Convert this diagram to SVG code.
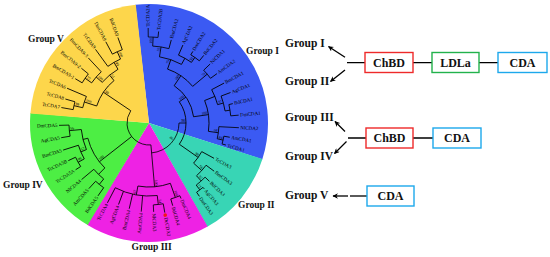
<svg xmlns="http://www.w3.org/2000/svg" width="550" height="257" viewBox="0 0 550 257">
<style>
.wedge{fill:none;stroke-width:119}
.br line,.br circle{stroke:#000;stroke-width:0.8;fill:none}
.lf{font-family:"Liberation Serif",serif;font-size:5px;fill:#000;dominant-baseline:central}
.fl{text-anchor:end}
.bs{font-family:"Liberation Serif",serif;font-size:3.8px;fill:#000}
.bse{text-anchor:end}
.gl{font-family:"Liberation Serif",serif;font-weight:bold;font-size:9.5px;fill:#111}
.rg{font-family:"Liberation Serif",serif;font-weight:bold;font-size:11.5px;fill:#111}
.bx{fill:#fff;stroke-width:1.4}
.bt{font-family:"Liberation Serif",serif;font-weight:bold;font-size:12px;fill:#111;text-anchor:middle;dominant-baseline:central}
.ln{stroke:#000;stroke-width:1.3;fill:none}
.ar{stroke:#000;stroke-width:1.3;fill:none;marker-end:url(#ah)}
</style>
<defs>
<marker id="ah" viewBox="0 0 10 10" refX="9" refY="5" markerWidth="5.5" markerHeight="5.5" orient="auto" markerUnits="userSpaceOnUse">
<path d="M0,0 L10,5 L0,10 L3,5 Z" fill="#000"/>
</marker>
</defs>
<rect width="550" height="257" fill="#fff"/>
<g id="tree" transform="translate(149,123)">
<g id="sectors">
<circle class="wedge" r="59.5" pathLength="360" stroke="#3B5AF3" stroke-dasharray="114.4 400" transform="rotate(263.4)"/>
<circle class="wedge" r="59.5" pathLength="360" stroke="#38D5B5" stroke-dasharray="43.1 400" transform="rotate(17.6)"/>
<circle class="wedge" r="59.5" pathLength="360" stroke="#EE22E4" stroke-dasharray="60.8 400" transform="rotate(60.5)"/>
<circle class="wedge" r="59.5" pathLength="360" stroke="#4DEE44" stroke-dasharray="63.8 400" transform="rotate(121)"/>
<circle class="wedge" r="59.5" pathLength="360" stroke="#FDD64B" stroke-dasharray="79 400" transform="rotate(184.6)"/>
</g>
<g id="connectors" class="br">
<circle r="77" pathLength="360" stroke-dasharray="6 400" transform="rotate(190)"/>
<line x1="77" x2="89" transform="rotate(190)"/><line x1="77" x2="87" transform="rotate(196)"/>
<circle r="68" pathLength="360" stroke-dasharray="10 400" transform="rotate(193)"/>
<line x1="68" x2="89" transform="rotate(203)"/><line x1="68" x2="77" transform="rotate(193)"/>
<circle r="78" pathLength="360" stroke-dasharray="8 400" transform="rotate(211)"/>
<line x1="78" x2="86" transform="rotate(211)"/><line x1="78" x2="87" transform="rotate(219)"/>
<circle r="70" pathLength="360" stroke-dasharray="12 400" transform="rotate(215)"/>
<line x1="70" x2="78" transform="rotate(215)"/><line x1="70" x2="89" transform="rotate(227)"/>
<circle r="78" pathLength="360" stroke-dasharray="8 400" transform="rotate(242)"/>
<line x1="78" x2="92" transform="rotate(242)"/><line x1="78" x2="91" transform="rotate(250)"/>
<circle r="70" pathLength="360" stroke-dasharray="12 400" transform="rotate(234)"/>
<line x1="70" x2="91" transform="rotate(234)"/><line x1="70" x2="78" transform="rotate(246)"/>
<circle r="62" pathLength="360" stroke-dasharray="19 400" transform="rotate(221)"/>
<line x1="62" x2="70" transform="rotate(221)"/><line x1="62" x2="70" transform="rotate(240)"/>
<circle r="55" pathLength="360" stroke-dasharray="32.5 400" transform="rotate(198)"/>
<line x1="55" x2="68" transform="rotate(198)"/><line x1="55" x2="62" transform="rotate(230.5)"/>
<line x1="22" x2="55" transform="rotate(214)"/>
<circle r="80" pathLength="360" stroke-dasharray="8 400" transform="rotate(170.5)"/>
<line x1="80" x2="89" transform="rotate(170.5)"/><line x1="80" x2="90" transform="rotate(178.5)"/>
<circle r="81" pathLength="360" stroke-dasharray="7.5 400" transform="rotate(147.5)"/>
<line x1="81" x2="87" transform="rotate(147.5)"/><line x1="81" x2="89" transform="rotate(155)"/>
<circle r="74" pathLength="360" stroke-dasharray="11.5 400" transform="rotate(151)"/>
<line x1="74" x2="81" transform="rotate(151)"/><line x1="74" x2="90" transform="rotate(162.5)"/>
<circle r="68" pathLength="360" stroke-dasharray="17.5 400" transform="rotate(157)"/>
<line x1="68" x2="74" transform="rotate(157)"/><line x1="68" x2="80" transform="rotate(174.5)"/>
<circle r="79" pathLength="360" stroke-dasharray="7.5 400" transform="rotate(125)"/>
<line x1="79" x2="89" transform="rotate(125)"/><line x1="79" x2="89" transform="rotate(132.5)"/>
<circle r="72" pathLength="360" stroke-dasharray="11 400" transform="rotate(129)"/>
<line x1="72" x2="79" transform="rotate(129)"/><line x1="72" x2="88" transform="rotate(140)"/>
<circle r="63" pathLength="360" stroke-dasharray="31.5 400" transform="rotate(134.5)"/>
<line x1="63" x2="72" transform="rotate(134.5)"/><line x1="63" x2="68" transform="rotate(166)"/>
<line x1="22" x2="63" transform="rotate(142)"/>
<circle r="79" pathLength="360" stroke-dasharray="7 400" transform="rotate(67)"/>
<line x1="79" x2="82" transform="rotate(67)"/><line x1="79" x2="86" transform="rotate(74)"/>
<circle r="82" pathLength="360" stroke-dasharray="7 400" transform="rotate(80)"/>
<line x1="82" x2="91" transform="rotate(80)"/><line x1="82" x2="89" transform="rotate(87)"/>
<circle r="73" pathLength="360" stroke-dasharray="34 400" transform="rotate(83.5)"/>
<line x1="73" x2="82" transform="rotate(83.5)"/><line x1="73" x2="89" transform="rotate(95)"/>
<line x1="73" x2="88" transform="rotate(103)"/><line x1="73" x2="87" transform="rotate(110.5)"/>
<line x1="73" x2="90" transform="rotate(117.5)"/>
<circle r="64" pathLength="360" stroke-dasharray="29.5 400" transform="rotate(70.5)"/>
<line x1="64" x2="79" transform="rotate(70.5)"/><line x1="64" x2="73" transform="rotate(100)"/>
<line x1="22" x2="64" transform="rotate(85)"/>
<circle r="84" pathLength="360" stroke-dasharray="5.5 400" transform="rotate(50)"/>
<line x1="84" x2="86" transform="rotate(50)"/><line x1="84" x2="89" transform="rotate(55.5)"/>
<circle r="78" pathLength="360" stroke-dasharray="8.75 400" transform="rotate(44)"/>
<line x1="78" x2="84" transform="rotate(44)"/><line x1="78" x2="84" transform="rotate(52.75)"/>
<circle r="71" pathLength="360" stroke-dasharray="11.5 400" transform="rotate(36.5)"/>
<line x1="71" x2="81" transform="rotate(36.5)"/><line x1="71" x2="78" transform="rotate(48)"/>
<circle r="60" pathLength="360" stroke-dasharray="13.5 400" transform="rotate(28.5)"/>
<line x1="60" x2="74" transform="rotate(28.5)"/><line x1="60" x2="71" transform="rotate(42)"/>
<line x1="37" x2="60" transform="rotate(35)"/>
<circle r="86" pathLength="360" stroke-dasharray="6.5 400" transform="rotate(269.5)"/>
<line x1="86" x2="95" transform="rotate(269.5)"/><line x1="86" x2="92" transform="rotate(276)"/>
<circle r="77" pathLength="360" stroke-dasharray="12.25 400" transform="rotate(272.75)"/>
<line x1="77" x2="86" transform="rotate(272.75)"/><line x1="77" x2="86" transform="rotate(285)"/>
<circle r="80" pathLength="360" stroke-dasharray="7.5 400" transform="rotate(301.5)"/>
<line x1="80" x2="84" transform="rotate(301.5)"/><line x1="80" x2="87" transform="rotate(309)"/>
<circle r="74" pathLength="360" stroke-dasharray="11.5 400" transform="rotate(293.5)"/>
<line x1="74" x2="85" transform="rotate(293.5)"/><line x1="74" x2="80" transform="rotate(305)"/>
<circle r="67" pathLength="360" stroke-dasharray="20 400" transform="rotate(279)"/>
<line x1="67" x2="77" transform="rotate(279)"/><line x1="67" x2="74" transform="rotate(299)"/>
<circle r="76" pathLength="360" stroke-dasharray="8 400" transform="rotate(316)"/>
<line x1="76" x2="85" transform="rotate(316)"/><line x1="76" x2="84" transform="rotate(324)"/>
<circle r="57" pathLength="360" stroke-dasharray="31 400" transform="rotate(289)"/>
<line x1="57" x2="67" transform="rotate(289)"/><line x1="57" x2="76" transform="rotate(320)"/>
<circle r="82" pathLength="360" stroke-dasharray="8 400" transform="rotate(347)"/>
<line x1="82" x2="86" transform="rotate(347)"/><line x1="82" x2="90" transform="rotate(355)"/>
<circle r="77" pathLength="360" stroke-dasharray="11.5 400" transform="rotate(339.5)"/>
<line x1="77" x2="87" transform="rotate(339.5)"/><line x1="77" x2="82" transform="rotate(351)"/>
<circle r="71" pathLength="360" stroke-dasharray="13 400" transform="rotate(332)"/>
<line x1="71" x2="85" transform="rotate(332)"/><line x1="71" x2="77" transform="rotate(345)"/>
<circle r="76" pathLength="360" stroke-dasharray="6 400" transform="rotate(370)"/>
<line x1="76" x2="82" transform="rotate(370)"/><line x1="76" x2="80" transform="rotate(376)"/>
<circle r="70" pathLength="360" stroke-dasharray="10 400" transform="rotate(363)"/>
<line x1="70" x2="90" transform="rotate(363)"/><line x1="70" x2="76" transform="rotate(373)"/>
<circle r="60" pathLength="360" stroke-dasharray="30 400" transform="rotate(338)"/>
<line x1="60" x2="71" transform="rotate(338)"/><line x1="60" x2="70" transform="rotate(368)"/>
<circle r="45" pathLength="360" stroke-dasharray="48 400" transform="rotate(304)"/>
<line x1="45" x2="57" transform="rotate(304)"/><line x1="45" x2="60" transform="rotate(352)"/>
<line x1="37" x2="45" transform="rotate(325)"/>
<circle r="37" pathLength="360" stroke-dasharray="70 400" transform="rotate(325)"/>
<line x1="30" x2="37" transform="rotate(0)"/>
<circle r="30" pathLength="360" stroke-dasharray="85 400" transform="rotate(0)"/>
<circle r="22" pathLength="360" stroke-dasharray="129 400" transform="rotate(85)"/>
</g>
<g id="bootstrap">
<text class="bs" transform="rotate(193) translate(76,0) rotate(180) translate(0,-0.8)">99</text>
<text class="bs" transform="rotate(198) translate(67,0) rotate(180) translate(0,-0.8)">100</text>
<text class="bs" transform="rotate(215) translate(77,0) rotate(180) translate(0,-0.8)">77</text>
<text class="bs" transform="rotate(221) translate(69,0) rotate(180) translate(0,-0.8)">100</text>
<text class="bs" transform="rotate(246) translate(77,0) rotate(180) translate(0,-0.8)">100</text>
<text class="bs" transform="rotate(240) translate(69,0) rotate(180) translate(0,-0.8)">99</text>
<text class="bs" transform="rotate(230.5) translate(61,0) rotate(180) translate(0,-0.8)">51</text>
<text class="bs" transform="rotate(214) translate(54,0) rotate(180) translate(0,-0.8)">99</text>
<text class="bs" transform="rotate(174.5) translate(79,0) rotate(180) translate(0,-0.8)">56</text>
<text class="bs" transform="rotate(151) translate(80,0) rotate(180) translate(0,-0.8)">99</text>
<text class="bs" transform="rotate(157) translate(73,0) rotate(180) translate(0,-0.8)">57</text>
<text class="bs" transform="rotate(142) translate(62,0) rotate(180) translate(0,-0.8)">100</text>
<text class="bs" transform="rotate(100) translate(72,0) rotate(180) translate(0,-0.8)">67</text>
<text class="bs bse" transform="rotate(70.5) translate(78,-0.8)">100</text>
<text class="bs bse" transform="rotate(83.5) translate(81,-0.8)">54</text>
<text class="bs bse" transform="rotate(85) translate(63,-0.8)">100</text>
<text class="bs bse" transform="rotate(52.75) translate(83,-0.8)">71</text>
<text class="bs bse" transform="rotate(48) translate(77,-0.8)">97</text>
<text class="bs bse" transform="rotate(42) translate(70,-0.8)">56</text>
<text class="bs bse" transform="rotate(35) translate(59,-0.8)">98</text>
<text class="bs bse" transform="rotate(272.75) translate(85,-0.8)">100</text>
<text class="bs bse" transform="rotate(279) translate(76,-0.8)">55</text>
<text class="bs bse" transform="rotate(305) translate(79,-0.8)">91</text>
<text class="bs bse" transform="rotate(289) translate(66,-0.8)">75</text>
<text class="bs bse" transform="rotate(320) translate(75,-0.8)">79</text>
<text class="bs bse" transform="rotate(304) translate(56,-0.8)">100</text>
<text class="bs bse" transform="rotate(345) translate(76,-0.8)">97</text>
<text class="bs bse" transform="rotate(373) translate(75,-0.8)">64</text>
<text class="bs bse" transform="rotate(368) translate(69,-0.8)">68</text>
<text class="bs bse" transform="rotate(352) translate(59,-0.8)">100</text>
<text class="bs bse" transform="rotate(325) translate(44,-0.8)">100</text>
<text class="bs bse" transform="rotate(0) translate(36,-0.8)">98</text>
<text class="bs bse" transform="rotate(38) translate(29,-0.8)">86</text>
</g>
<g id="leaves">
<g id="n-TcCDA7"><text class="lf fl" transform="rotate(190) translate(90.5,0) rotate(180)">TcCDA7</text></g>
<g id="n-TcCDA8"><text class="lf fl" transform="rotate(196) translate(88.5,0) rotate(180)">TcCDA8</text></g>
<g id="n-TcCDA6"><text class="lf fl" transform="rotate(203) translate(90.5,0) rotate(180)">TcCDA6</text></g>
<g id="n-BmCDA9-1"><text class="lf fl" transform="rotate(211) translate(87.5,0) rotate(180)">BmCDA9-1</text></g>
<g id="n-BmCDA9-2"><text class="lf fl" transform="rotate(219) translate(88.5,0) rotate(180)">BmCDA9-2</text></g>
<g id="n-BmCDA9-3"><text class="lf fl" transform="rotate(227) translate(90.5,0) rotate(180)">BmCDA9-3</text></g>
<g id="n-TcCDA9"><text class="lf fl" transform="rotate(234) translate(92.5,0) rotate(180)">TcCDA9</text></g>
<g id="n-DmCDA9"><text class="lf fl" transform="rotate(242) translate(93.5,0) rotate(180)">DmCDA9</text></g>
<g id="n-BdCDA9"><text class="lf fl" transform="rotate(250) translate(92.5,0) rotate(180)">BdCDA9</text></g>
<g id="n-TcCDA2A"><text class="lf" transform="rotate(269.5) translate(96.5,0)">TcCDA2A</text></g>
<g id="n-TcCDA2B"><text class="lf" transform="rotate(276) translate(93.5,0)">TcCDA2B</text></g>
<g id="n-BmCDA2"><text class="lf" transform="rotate(285) translate(87.5,0)">BmCDA2</text></g>
<g id="n-AgCDA2"><text class="lf" transform="rotate(293.5) translate(86.5,0)">AgCDA2</text></g>
<g id="n-DmCDA2"><text class="lf" transform="rotate(301.5) translate(85.5,0)">DmCDA2</text></g>
<g id="n-BdCDA2"><text class="lf" transform="rotate(309) translate(88.5,0)">BdCDA2</text></g>
<g id="n-NlCDA1"><text class="lf" transform="rotate(316) translate(86.5,0)">NlCDA1</text></g>
<g id="n-AmCDA2"><text class="lf" transform="rotate(324) translate(85.5,0)">AmCDA2</text></g>
<g id="n-BmCDA1"><text class="lf" transform="rotate(332) translate(86.5,0)">BmCDA1</text></g>
<g id="n-AgCDA1"><text class="lf" transform="rotate(339.5) translate(88.5,0)">AgCDA1</text></g>
<g id="n-BdCDA1"><text class="lf" transform="rotate(347) translate(87.5,0)">BdCDA1</text></g>
<g id="n-DmCDA1"><text class="lf" transform="rotate(355) translate(91.5,0)">DmCDA1</text></g>
<g id="n-NlCDA2"><text class="lf" transform="rotate(363) translate(91.5,0)">NlCDA2</text></g>
<g id="n-AmCDA1"><text class="lf" transform="rotate(370) translate(83.5,0)">AmCDA1</text></g>
<g id="n-TcCDA1"><text class="lf" transform="rotate(376) translate(81.5,0)">TcCDA1</text></g>
<g id="n-TcCDA3"><text class="lf" transform="rotate(28.5) translate(75.5,0)">TcCDA3</text></g>
<g id="n-BmCDA3"><text class="lf" transform="rotate(36.5) translate(82.5,0)">BmCDA3</text></g>
<g id="n-BdCDA3"><text class="lf" transform="rotate(44) translate(85.5,0)">BdCDA3</text></g>
<g id="n-AgCDA3"><text class="lf" transform="rotate(50) translate(87.5,0)">AgCDA3</text></g>
<g id="n-DmCDA3"><text class="lf" transform="rotate(55.5) translate(90.5,0)">DmCDA3</text></g>
<g id="n-DmCDA4"><text class="lf" transform="rotate(67) translate(83.5,0)">DmCDA4</text></g>
<g id="n-BdCDA4"><text class="lf" transform="rotate(74) translate(87.5,0)">BdCDA4</text></g>
<g id="n-DcCDA3"><circle r="1.8" fill="#F01818" transform="rotate(80) translate(93.5,0)"/><text class="lf" transform="rotate(80) translate(96,0)">DcCDA3</text></g>
<g id="n-NlCDA3"><text class="lf" transform="rotate(87) translate(90.5,0)">NlCDA3</text></g>
<g id="n-AmCDA4"><text class="lf fl" transform="rotate(95) translate(90.5,0) rotate(180)">AmCDA4</text></g>
<g id="n-BmCDA4"><text class="lf fl" transform="rotate(103) translate(89.5,0) rotate(180)">BmCDA4</text></g>
<g id="n-AgCDA4"><text class="lf fl" transform="rotate(110.5) translate(88.5,0) rotate(180)">AgCDA4</text></g>
<g id="n-TcCDA4"><text class="lf fl" transform="rotate(117.5) translate(91.5,0) rotate(180)">TcCDA4</text></g>
<g id="n-BdCDA5"><text class="lf fl" transform="rotate(125) translate(90.5,0) rotate(180)">BdCDA5</text></g>
<g id="n-AmCDA5"><text class="lf fl" transform="rotate(132.5) translate(90.5,0) rotate(180)">AmCDA5</text></g>
<g id="n-NlCDA4"><text class="lf fl" transform="rotate(140) translate(89.5,0) rotate(180)">NlCDA4</text></g>
<g id="n-TcCDA5A"><text class="lf fl" transform="rotate(147.5) translate(88.5,0) rotate(180)">TcCDA5A</text></g>
<g id="n-TcCDA5B"><text class="lf fl" transform="rotate(155) translate(90.5,0) rotate(180)">TcCDA5B</text></g>
<g id="n-BmCDA5"><text class="lf fl" transform="rotate(162.5) translate(91.5,0) rotate(180)">BmCDA5</text></g>
<g id="n-AgCDA5"><text class="lf fl" transform="rotate(170.5) translate(90.5,0) rotate(180)">AgCDA5</text></g>
<g id="n-DmCDA5"><text class="lf fl" transform="rotate(178.5) translate(91.5,0) rotate(180)">DmCDA5</text></g>
</g>
</g>
<g id="group-labels">
<text class="gl" x="28" y="42">Group V</text>
<text class="gl" x="246" y="54">Group I</text>
<text class="gl" x="3" y="188">Group IV</text>
<text class="gl" x="131.5" y="250">Group III</text>
<text class="gl" x="238" y="208">Group II</text>
</g>
<g id="domain-connectors">
<path class="ar" d="M345,57.3 L328.5,46.5"/>
<path class="ar" d="M345,70 L330.5,81.5"/>
<path class="ln" d="M347,62.7 H365 M413,62.7 H432 M479,62.7 H498"/>
<path class="ar" d="M345,131.5 L335,121.5"/>
<path class="ar" d="M346.5,141.5 L334.5,153.5"/>
<path class="ln" d="M348,138 H366 M413,138 H433"/>
<path class="ar" d="M348,196 H333"/>
<path class="ln" d="M350,196 H367"/>
</g>
<g id="r-group1"><text class="rg" x="285" y="47">Group I</text></g>
<g id="r-group2"><text class="rg" x="285" y="85">Group II</text></g>
<g id="r-group3"><text class="rg" x="285" y="121">Group III</text></g>
<g id="r-group4"><text class="rg" x="285" y="160">Group IV</text></g>
<g id="r-group5"><text class="rg" x="285" y="199">Group V</text></g>
<g id="box-chbd-1"><rect class="bx" x="365" y="52.5" width="48" height="20" stroke="#EE2A2A"/><text class="bt" x="389" y="62.7">ChBD</text></g>
<g id="box-ldla-1"><rect class="bx" x="432" y="52.5" width="47" height="20" stroke="#22B24C"/><text class="bt" x="455.5" y="62.7">LDLa</text></g>
<g id="box-cda-1"><rect class="bx" x="498" y="52.5" width="49" height="20" stroke="#1DA8EC"/><text class="bt" x="522.5" y="62.7">CDA</text></g>
<g id="box-chbd-2"><rect class="bx" x="366" y="128" width="47" height="20" stroke="#EE2A2A"/><text class="bt" x="389.5" y="138">ChBD</text></g>
<g id="box-cda-2"><rect class="bx" x="433" y="128" width="48" height="20" stroke="#1DA8EC"/><text class="bt" x="457" y="138">CDA</text></g>
<g id="box-cda-3"><rect class="bx" x="367" y="186" width="47" height="20" stroke="#1DA8EC"/><text class="bt" x="390.5" y="196">CDA</text></g>
</svg>
